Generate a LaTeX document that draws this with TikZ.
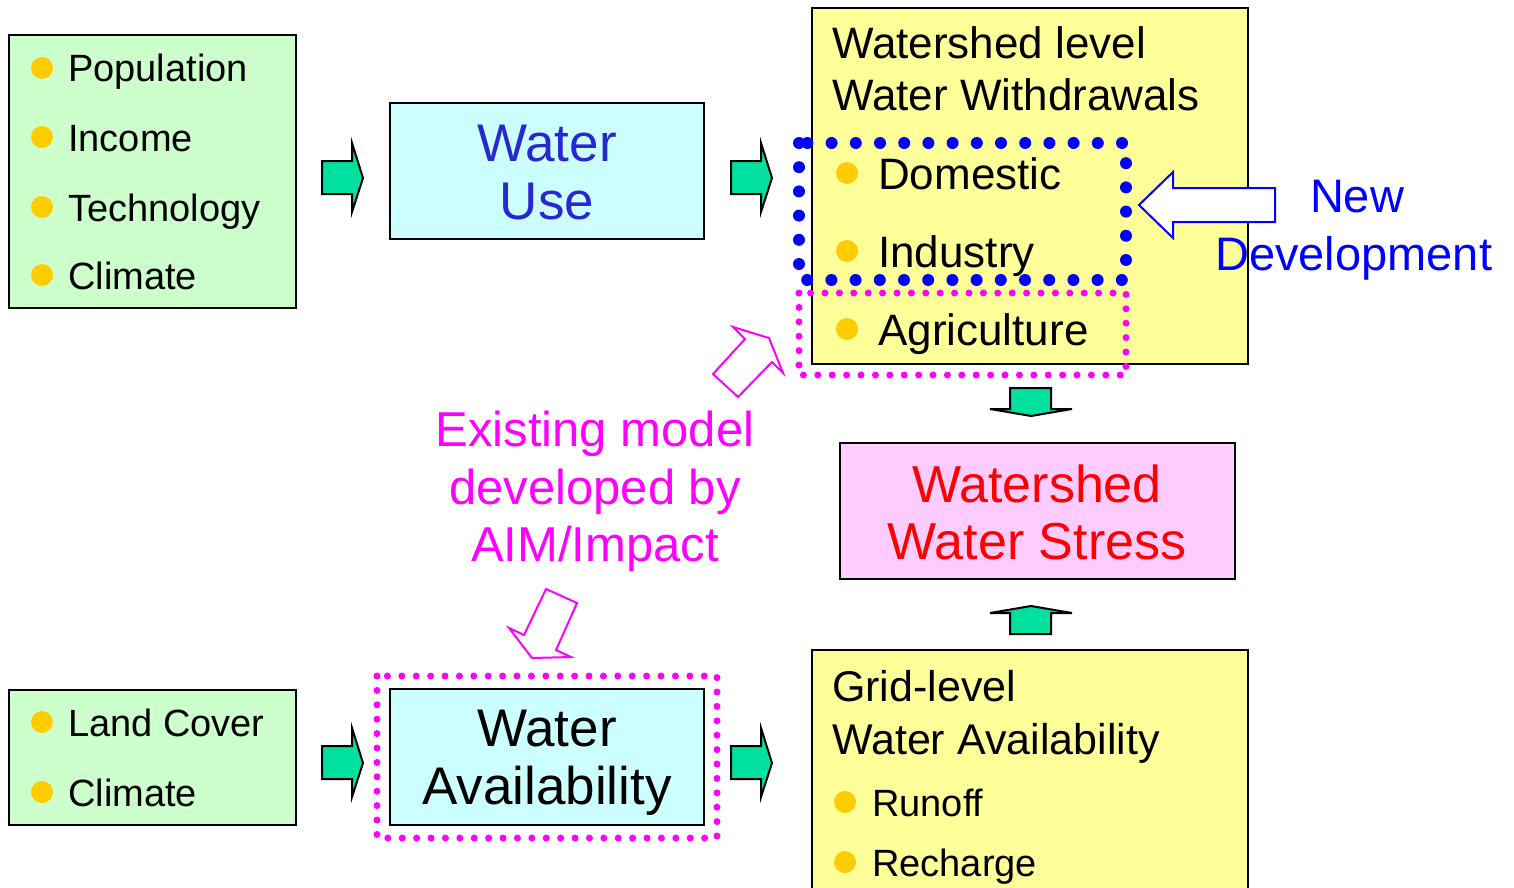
\documentclass[tikz,border=0pt]{standalone}
\usepackage{fontspec}
\setmainfont{Liberation Sans}
\newcommand\myfs[1]{\fontsize{#1}{#1}\selectfont}
\definecolor{boxgreen}{RGB}{204,255,204}
\definecolor{boxcyan}{RGB}{204,255,255}
\definecolor{boxyellow}{RGB}{255,255,153}
\definecolor{boxpink}{RGB}{255,204,255}
\definecolor{arrowgreen}{RGB}{0,225,160}
\definecolor{bulletc}{RGB}{255,204,0}
\definecolor{wublue}{RGB}{40,40,210}
\definecolor{mag}{RGB}{255,0,255}
\begin{document}
\begin{tikzpicture}[x=1pt,y=-1pt,
  box/.style={draw=black,line width=2pt,inner sep=0pt},
  txt/.style={inner sep=0pt,anchor=base west},
  ctxt/.style={inner sep=0pt,anchor=base},
  bul/.style={circle,fill=bulletc,inner sep=0pt,minimum size=22pt},
  garrow/.style={draw=black,line width=2pt,fill=arrowgreen,line join=miter},
  bigdots/.style={draw=blue,line width=12pt,line cap=round,dash pattern=on 0pt off 24.2pt},
  smalldots/.style={draw=mag,line width=7pt,line cap=round,dash pattern=on 0pt off 14.4pt},
  hollow/.style={line width=2pt,fill=white,line join=miter}]
\useasboundingbox (0,0) rectangle (1514,888);
% boxes
\node[box,fill=boxgreen,minimum width=287pt,minimum height=273pt] (gb1) at (152.5,171.5) {};
\node[box,fill=boxcyan,minimum width=314pt,minimum height=136pt] (wu) at (547,171) {};
\node[box,fill=boxyellow,minimum width=436pt,minimum height=356pt] (yb1) at (1030,186) {};
\node[box,fill=boxpink,minimum width=395pt,minimum height=136pt] (pk) at (1037.5,511) {};
\draw[box,fill=boxyellow] (812,895) -- (812,650) -- (1248,650) -- (1248,895);
\coordinate (yb2) at (1030,650);
\node[box,fill=boxgreen,minimum width=287pt,minimum height=135pt] (gb2) at (152.5,757.5) {};
\node[box,fill=boxcyan,minimum width=314pt,minimum height=136pt] (wa) at (547,757) {};
% dotted frames
\draw[smalldots] (799,293) rectangle (1126,375);
\draw[bigdots] (799,143) rectangle (1126,280);
\draw[smalldots] (377,676) rectangle (717,838);
% green arrows
\foreach \ox/\oy in {322/143,731/143,322/728,731/728}{
  \draw[garrow] (\ox,\oy+18) -- (\ox+30,\oy+18) -- (\ox+30,\oy) -- (\ox+41,\oy+35)
    -- (\ox+30,\oy+69) -- (\ox+30,\oy+51) -- (\ox,\oy+51) -- cycle;}
\draw[garrow] (1010,388) -- (1051,388) -- (1051,409) -- (1072,409) -- (1031,416)
  -- (990,409) -- (1010,409) -- cycle;
\draw[garrow] (1010,634) -- (1051,634) -- (1051,613) -- (1072,613) -- (1031,606)
  -- (990,613) -- (1010,613) -- cycle;
% hollow arrows
\draw[hollow,draw=blue] (1139,205) -- (1173,172) -- (1173,188) -- (1275,188)
  -- (1275,222) -- (1173,222) -- (1173,238) -- cycle;
\draw[hollow,draw=mag] (733,327) -- (769,338) -- (783,373) -- (772,362)
  -- (738,397) -- (713,374) -- (745,339) -- cycle;
\draw[hollow,draw=mag] (546,589) -- (577,603) -- (556,650) -- (571,657)
  -- (532,658) -- (509,628) -- (524,635) -- cycle;
% left green box 1
\node[bul] (b1) at (42,68) {};
\node[bul] (b2) at (42,137) {};
\node[bul] (b3) at (42,207) {};
\node[bul] (b4) at (42,275) {};
\node[txt] (t1) at (68,82) {\myfs{38}Population};
\node[txt] (t2) at (68,151) {\myfs{38}Income};
\node[txt] (t3) at (68,221) {\myfs{38}Technology};
\node[txt] (t4) at (68,289) {\myfs{38}Climate};
% water use
\node[ctxt,text=wublue] (wu1) at (547,161) {\myfs{53}Water};
\node[ctxt,text=wublue] (wu2) at (547,219) {\myfs{53}Use};
% top yellow box
\node[txt] (y1) at (832,59) {\myfs{44}Watershed level};
\node[txt] (y2) at (832,111) {\myfs{44}Water Withdrawals};
\node[bul] (b5) at (847,173) {};
\node[bul] (b6) at (847,251) {};
\node[bul] (b7) at (847,329) {};
\node[txt] (y3) at (878,189) {\myfs{44}Domestic};
\node[txt] (y4) at (878,267) {\myfs{44}Industry};
\node[txt] (y5) at (878,345) {\myfs{44}Agriculture};
% new development
\node[ctxt,text=blue] (nd1) at (1357,212) {\myfs{47}New};
\node[txt,text=blue] (nd2) at (1215,270) {\myfs{47}Development};
% pink
\node[ctxt,text=red] (p1) at (1037,502) {\myfs{52}Watershed};
\node[ctxt,text=red] (p2) at (1037,559) {\myfs{52}Water Stress};
% existing model
\node[ctxt,text=mag] (e1) at (595,446) {\myfs{49}Existing model};
\node[ctxt,text=mag] (e2) at (595,504) {\myfs{49}developed by};
\node[ctxt,text=mag] (e3) at (595,561) {\myfs{49}AIM/Impact};
% bottom yellow
\node[txt] (g1) at (832,701) {\myfs{43}Grid-level};
\node[txt] (g2) at (832,754) {\myfs{43}Water Availability};
\node[bul] (b8) at (845,802) {};
\node[bul] (b9) at (845,862) {};
\node[txt] (g3) at (872,816) {\myfs{38}Runoff};
\node[txt] (g4) at (872,876) {\myfs{38}Recharge};
% bottom green
\node[bul] (b10) at (42,722) {};
\node[bul] (b11) at (42,792) {};
\node[txt] (l1) at (68,736) {\myfs{38}Land Cover};
\node[txt] (l2) at (68,806) {\myfs{38}Climate};
% water availability
\node[ctxt] (wa1) at (547,746) {\myfs{53}Water};
\node[ctxt] (wa2) at (547,804) {\myfs{53}Availability};
\end{tikzpicture}
\end{document}
